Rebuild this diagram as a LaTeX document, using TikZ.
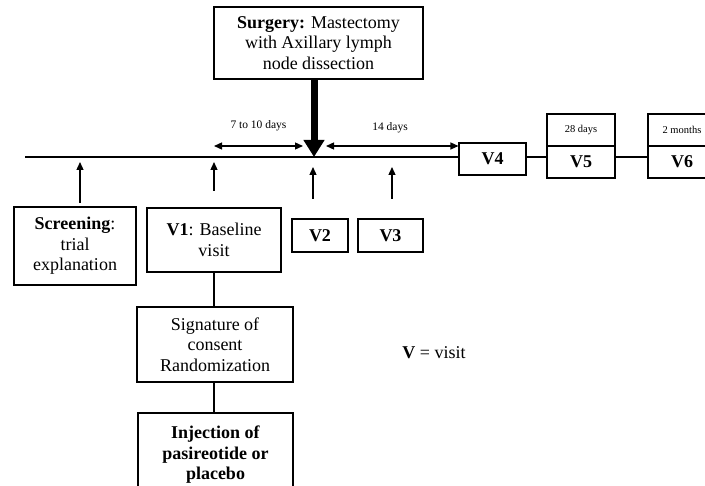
\documentclass[tikz,border=0pt]{standalone}
\usepackage{fontspec}
\setmainfont{Liberation Serif}
\usetikzlibrary{arrows.meta}
\begin{document}
\begin{tikzpicture}[x=1pt,y=-1pt,
  box/.style={draw, line width=1.1pt, inner sep=0pt, align=center, font=\fontsize{18}{20.5}\selectfont},
  txt/.style={inner sep=0pt, align=center, font=\fontsize{18}{20.5}\selectfont},
  small/.style={inner sep=0pt, font=\fontsize{11.5}{13}\selectfont},
  conn/.style={line width=1.1pt},
  uparrow/.style={line width=1.3pt, -{Triangle[length=8pt,width=7pt]}},
  dblarrow/.style={line width=1.3pt, {Triangle[length=8pt,width=7pt]}-{Triangle[length=8pt,width=7pt]}},
  bigarrow/.style={line width=7pt, -{Triangle[length=17pt,width=20pt]}}
]
\useasboundingbox (0,0) rectangle (705,486);

% boxes
\node[box, minimum width=209pt, minimum height=72pt] (surg) at (318.5,43) {\textbf{Surgery:} Mastectomy\\with Axillary lymph\\node dissection};
\node[box, minimum width=67pt, minimum height=32pt] (v4) at (492.5,159) {\textbf{V4}};
\node[box, minimum width=68pt, minimum height=32pt] (v5a) at (581,130) {\fontsize{10.5}{12}\selectfont 28 days};
\node[box, minimum width=68pt, minimum height=32pt] (v5b) at (581,162) {\textbf{V5}};
\node[box, minimum width=68pt, minimum height=32pt] (v6a) at (682,130) {\fontsize{10.5}{12}\selectfont 2 months};
\node[box, minimum width=68pt, minimum height=32pt] (v6b) at (682,162) {\textbf{V6}};
\node[box, minimum width=122pt, minimum height=78pt] (scr) at (75,246) {\textbf{Screening}:\\trial\\explanation};
\node[box, minimum width=134pt, minimum height=64pt] (v1) at (214,240) {\textbf{V1}: Baseline\\visit};
\node[box, minimum width=56pt, minimum height=33pt] (v2) at (320,235.5) {\textbf{V2}};
\node[box, minimum width=65pt, minimum height=33pt] (v3) at (390.5,235.5) {\textbf{V3}};
\node[box, minimum width=156pt, minimum height=75pt] (sig) at (215,344.5) {Signature of\\consent\\Randomization};
\node[box, minimum width=155pt, minimum height=86pt] (inj) at (215.5,456) {};
\node[txt] (injt) at (215.5,455) {\textbf{Injection of}\\\textbf{pasireotide or}\\\textbf{placebo}};
\node[txt] (leg) at (434,353) {\textbf{V} = visit};

% timeline
\coordinate (tl0) at (25,157);
\coordinate (tip) at (314,157);
\draw[conn] (tl0) -- (tl0 -| v4.west);
\draw[conn] (v4.east |- tl0) -- (v5b.west |- tl0);
\draw[conn] (v5b.east |- tl0) -- (v6b.west |- tl0);

% vertical connectors
\draw[conn] (v1.south) -- (v1.south |- sig.north);
\draw[conn] (v1.south |- sig.south) -- (v1.south |- inj.north);

% up arrows
\coordinate (a1s) at (80,203);  \coordinate (a1e) at (80,162);
\coordinate (a2s) at (214,191); \coordinate (a2e) at (214,162);
\coordinate (a3s) at (313,199); \coordinate (a3e) at (313,167);
\coordinate (a4s) at (392,199); \coordinate (a4e) at (392,167);
\draw[uparrow] (a1s) -- (a1e);
\draw[uparrow] (a2s) -- (a2e);
\draw[uparrow] (a3s) -- (a3e);
\draw[uparrow] (a4s) -- (a4e);

% interval arrows
\coordinate (d1s) at (214,146); \coordinate (d1e) at (303,146);
\coordinate (d2s) at (326,146);
\draw[dblarrow] (d1s) -- (d1e);
\draw[dblarrow] (d2s) -- (v4.west |- d2s);
\node[small] (l1) at (258.5,126) {7 to 10 days};
\node[small] (l2) at (390,128) {14 days};

% surgery arrow
\draw[bigarrow] (surg.south -| tip) -- (tip);
\end{tikzpicture}
\end{document}
